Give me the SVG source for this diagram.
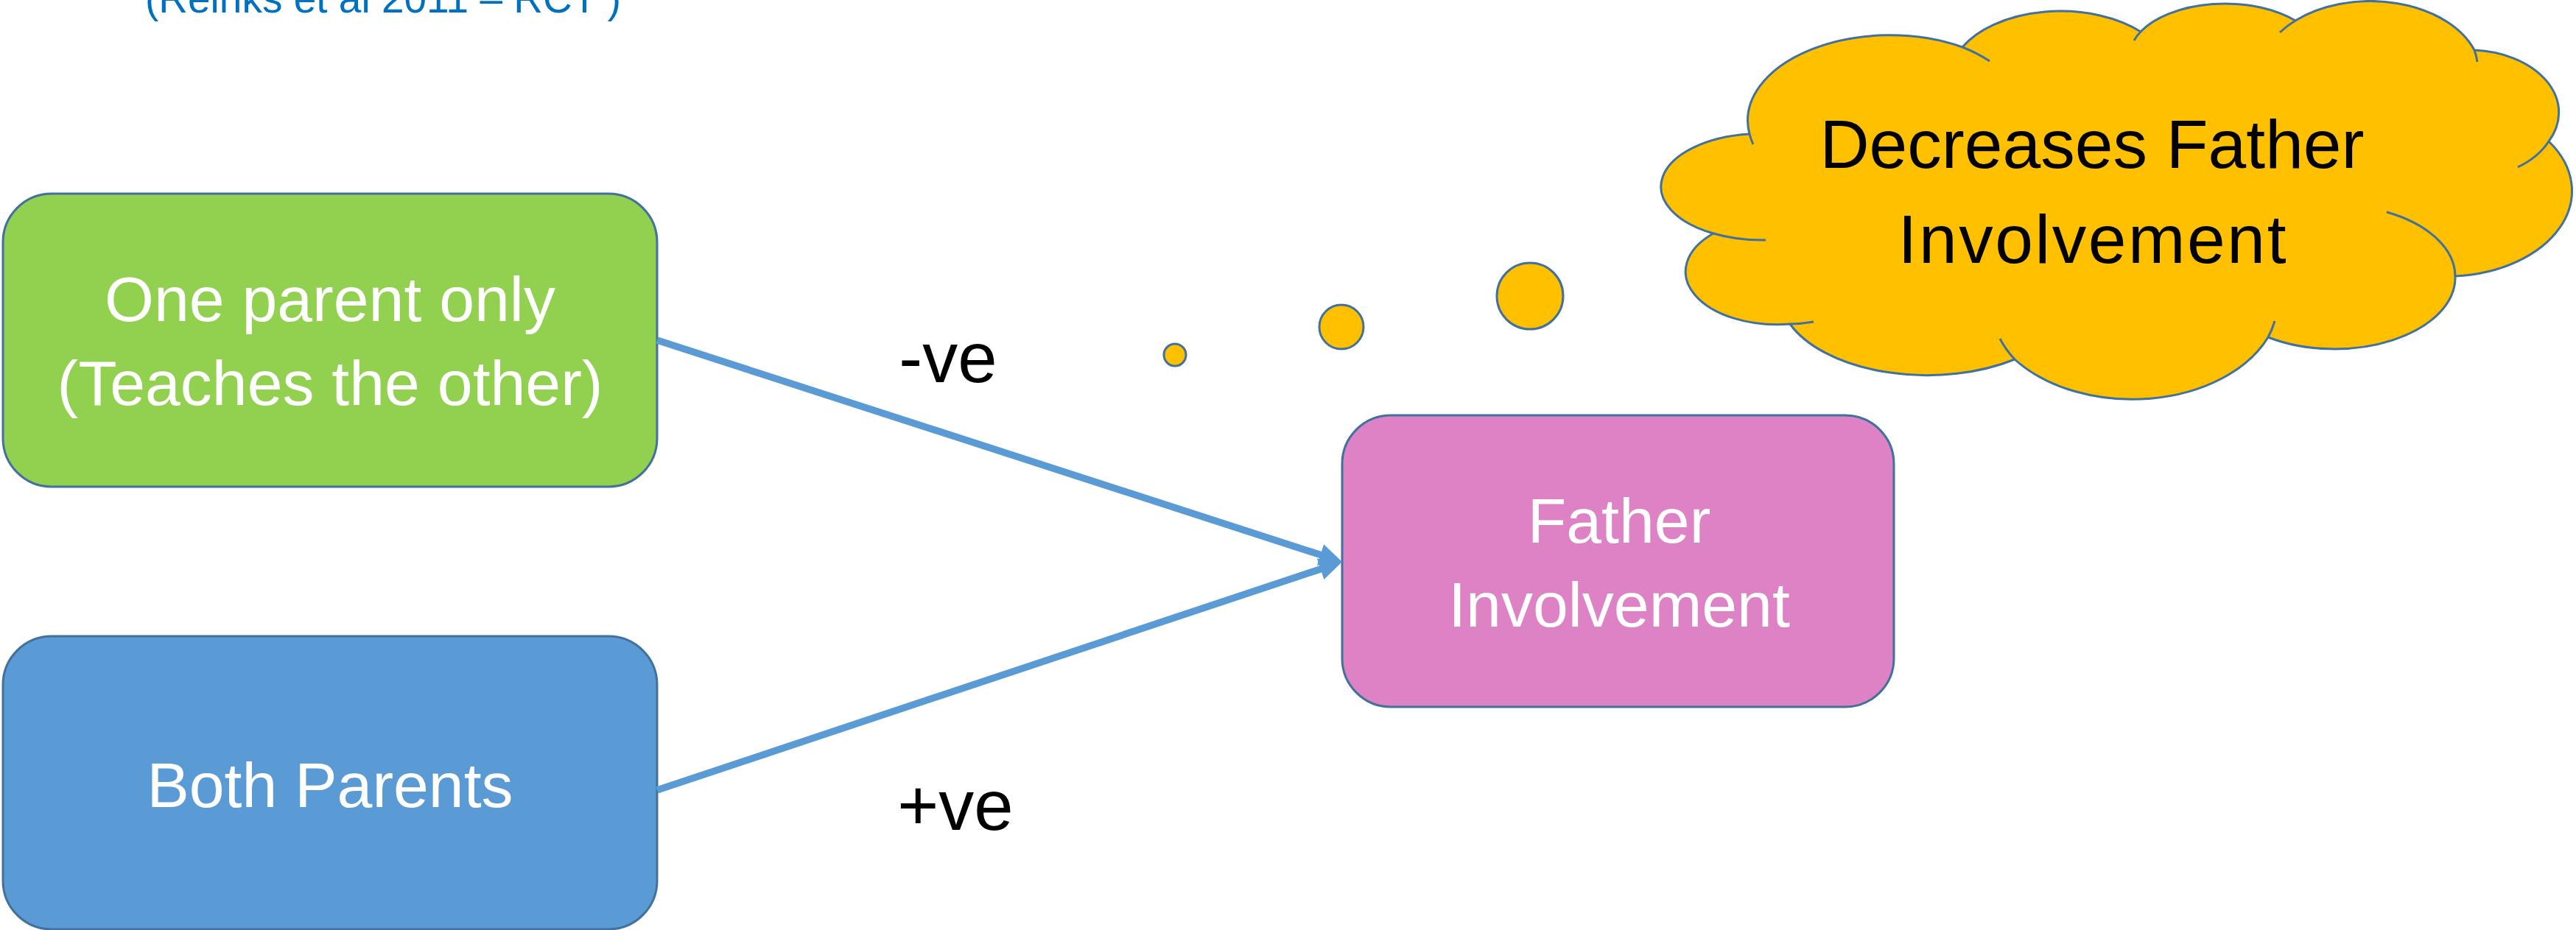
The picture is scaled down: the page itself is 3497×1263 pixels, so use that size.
<svg xmlns="http://www.w3.org/2000/svg" width="3497" height="1263" viewBox="0 0 3497 1263">
<style>
.box{stroke:#41719C;stroke-width:3}
.lbl{font-family:"Liberation Sans",Arial,sans-serif;font-size:86px;fill:#FFFFFF;text-anchor:middle}
.blk{font-family:"Liberation Sans",Arial,sans-serif;fill:#000000;text-anchor:middle}
.cloud{fill:#FFC000;stroke:#41719C;stroke-width:3}
.inner{fill:none;stroke:#41719C;stroke-width:3}
.conn{stroke:#5B9BD5;stroke-width:9.5;fill:none}
</style>
<defs>
<marker id="arr" viewBox="0 0 31 30" markerUnits="userSpaceOnUse" markerWidth="31" markerHeight="30" refX="6" refY="15" orient="auto">
<path d="M0,0 L31,15 L0,30 z" fill="#5B9BD5"/>
</marker>
</defs>
<rect width="3497" height="1263" fill="#FFFFFF"/>
<text x="520" y="17" font-family="Liberation Sans, Arial, sans-serif" font-size="55" fill="#0070C0" text-anchor="middle">(Reinks et al 2011 – RCT )</text>

<g id="node-one-parent">
<rect class="box" x="4" y="263" width="888" height="398" rx="66" ry="66" fill="#92D050"/>
<text class="lbl" x="448" y="436">One parent only</text>
<text class="lbl" x="448" y="550">(Teaches the other)</text>
</g>

<g id="node-both-parents">
<rect class="box" x="4" y="864" width="888" height="398" rx="66" ry="66" fill="#5B9BD5"/>
<text class="lbl" x="448" y="1096">Both Parents</text>
</g>

<g id="node-father-involvement">
<rect class="box" x="1822" y="564" width="749" height="396" rx="66" ry="66" fill="#DE82C6"/>
<text class="lbl" x="2198" y="737">Father</text>
<text class="lbl" x="2198" y="851">Involvement</text>
</g>

<g id="node-cloud">
<path class="cloud" d="M2326,317 A135,72 0 0 1 2375,182 A193,116 0 0 1 2664,64 A150,90 0 0 1 2906,43 A130,72 0 0 1 3116,28 A150,100 0 0 1 3359,68 A122,85 0 0 1 3460,192 A170,116 0 0 1 3333,375 A164,97 0 0 1 3079,458 A200,137 0 0 1 2735,488 A200,110 0 0 1 2430,440 A124,72 0 0 1 2326,317 Z"/>
<path class="inner" d="M2326,317 A135,72 0 0 0 2397,326 M2375,182 A193,116 0 0 0 2380,196 M2664,64 A193,116 0 0 1 2701,83 M2906,43 A130,72 0 0 0 2897,55 M3116,28 A150,100 0 0 0 3095,44 M3359,68 A150,100 0 0 1 3363,84 M3460,192 A122,85 0 0 1 3418,227 M3333,375 A164,97 0 0 0 3240,288 M3079,458 A200,137 0 0 0 3088,436 M2735,488 A200,137 0 0 1 2715,460 M2430,440 A124,72 0 0 0 2462,437"/>
<text class="blk" x="2840" y="228" font-size="93">Decreases Father</text>
<text class="blk" x="2840" y="357" font-size="93" textLength="527">Involvement</text>
</g>

<g id="node-bubbles">
<circle class="cloud" cx="1595" cy="482" r="15"/>
<circle class="cloud" cx="1821" cy="444" r="30"/>
<circle class="cloud" cx="2077" cy="402" r="45"/>
</g>

<g id="connectors">
<line class="conn" x1="892" y1="462" x2="1798.2" y2="755.3" marker-end="url(#arr)"/>
<line class="conn" x1="892" y1="1073" x2="1798.3" y2="770.9" marker-end="url(#arr)"/>
<text class="blk" x="1287" y="519" font-size="96">-ve</text>
<text class="blk" x="1297" y="1127" font-size="96">+ve</text>
</g>
</svg>
